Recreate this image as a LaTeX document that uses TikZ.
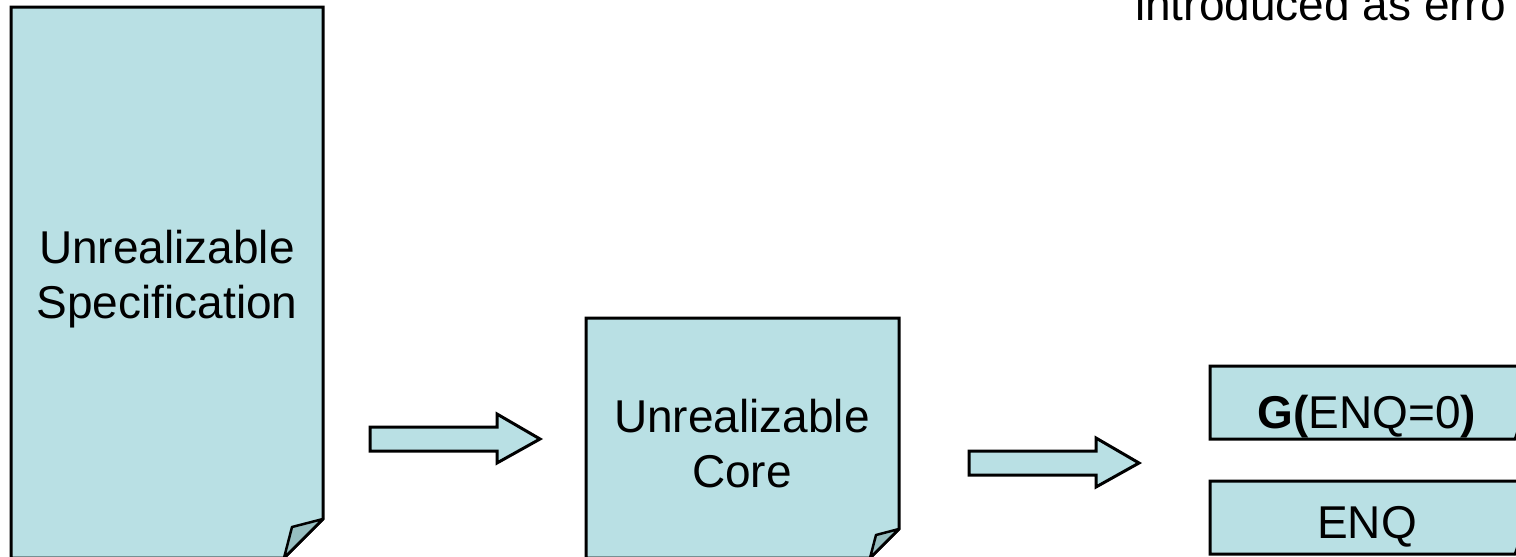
\documentclass[tikz,border=0pt]{standalone}
\usepackage{fontspec}
\setmainfont{Liberation Sans}
\definecolor{docfill}{RGB}{185,224,228}
\definecolor{foldfill}{RGB}{150,190,192}
\tikzset{
  docshape/.style={draw=black, fill=docfill, line width=3pt, line join=miter},
  foldshape/.style={draw=black, fill=foldfill, line width=2.5pt, line join=round},
  arrowshape/.style={draw=black, fill=docfill, line width=3pt, line join=miter},
  bigtext/.style={font=\fontsize{46}{55}\selectfont, inner sep=0pt, align=center, text=black},
  blockarrow/.pic={
    \draw[arrowshape] (0,-12) -- (127,-12) -- (127,-25) -- (170,0) -- (127,24) -- (127,12) -- (0,12) -- cycle;
  }
}
\begin{document}
\begin{tikzpicture}[x=1pt,y=-1pt]
\useasboundingbox (0,0) rectangle (1516,557);
% left document
\draw[docshape] (11,7) -- (323,7) -- (323,519) -- (284,558) -- (11,558) -- cycle;
\draw[foldshape] (323,519) -- (292,527) -- (284,558) -- cycle;
\node[bigtext] (spec) at (167,279.5) {Unrealizable\\Specification};
% arrow 1
\pic at (370,439) {blockarrow};
% middle document
\draw[docshape] (586,318) -- (899,318) -- (899,529) -- (870,558) -- (586,558) -- cycle;
\draw[foldshape] (899,529) -- (876,535) -- (870,558) -- cycle;
\node[bigtext] (core) at (742,444) {Unrealizable\\Core};
% arrow 2
\pic at (969,463) {blockarrow};
% right boxes
\draw[docshape] (1210,366) -- (1526,366) -- (1526,428) -- (1515,439) -- (1210,439) -- cycle;
\draw[foldshape] (1526,428) -- (1518,430) -- (1515,439) -- cycle;
\node[bigtext, anchor=base] (g) at (1367,428) {\textbf{G(}ENQ=0\textbf{)}};
\draw[docshape] (1210,481) -- (1526,481) -- (1526,543) -- (1515,554) -- (1210,554) -- cycle;
\draw[foldshape] (1526,543) -- (1518,545) -- (1515,554) -- cycle;
\node[bigtext, anchor=base] (enq) at (1367,538) {ENQ};
% top text
\node[bigtext, anchor=base west] (intro) at (1135,20) {introduced as erro};
\end{tikzpicture}
\end{document}
